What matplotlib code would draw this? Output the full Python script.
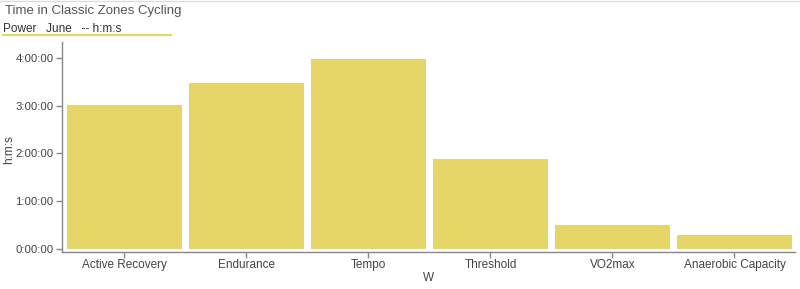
import matplotlib
matplotlib.use("Agg")
import matplotlib.pyplot as plt
from matplotlib.ticker import FuncFormatter, MultipleLocator
from matplotlib.lines import Line2D

categories = ["Active Recovery", "Endurance", "Tempo", "Threshold", "VO2max", "Anaerobic Capacity"]
hours = [3.02, 3.47, 3.98, 1.89, 0.50, 0.29]
seconds = [h * 3600 for h in hours]

plt.rcParams['font.family'] = ['Liberation Sans', 'DejaVu Sans']
txt = '#444444'
bar_color = '#e6d567'

fig = plt.figure(figsize=(8, 2.89), dpi=100)
W, H = 800, 289
left, right, top, bottom = 62, 795.5, 42, 252
ax = fig.add_axes([left / W, 1 - bottom / H, (right - left) / W, (bottom - top) / H])

x = list(range(len(categories)))
ax.bar(x, seconds, width=0.94, color=bar_color, zorder=2)
band = (right - left - 1.5) / len(categories)
ax.set_xlim(-0.5 - 1.5 / band, len(categories) - 0.5)
ax.set_ylim(-0.06 * 3600, 4.33 * 3600)

def fmt(v, pos):
    v = int(round(v))
    return f"{v // 3600}:{(v % 3600) // 60:02d}:{v % 60:02d}"

ax.yaxis.set_major_locator(MultipleLocator(3600))
ax.yaxis.set_major_formatter(FuncFormatter(fmt))
ax.set_xticks(x)
ax.set_xticklabels(categories)

for s in ['top', 'right']:
    ax.spines[s].set_visible(False)
for s in ['left', 'bottom']:
    ax.spines[s].set_color('#888888')
    ax.spines[s].set_linewidth(1.0)
ax.tick_params(axis='both', colors='#888888', labelcolor=txt, labelsize=8.5, length=4, width=1)
ax.tick_params(axis='y', pad=2, labelsize=8.2)
ax.tick_params(axis='x', pad=1)

fig.text(9 / W, 1 - 150 / H, "h:m:s", color=txt, fontsize=8.5, va='center', ha='center', rotation=90)
ax.set_xlabel("W", color=txt, fontsize=8.5, labelpad=1)

fig.text(5 / W, 1 - 11 / H, "Time in Classic Zones Cycling", color='#555555', fontsize=9.5, va='center', ha='left')
fig.text(3 / W, 1 - 29 / H, "Power   June   -- h:m:s", color='#333333', fontsize=8.5, va='center', ha='left')
fig.add_artist(Line2D([3 / W, 171 / W], [1 - 35 / H, 1 - 35 / H], color='#e6d567', lw=1.6, transform=fig.transFigure))
fig.add_artist(Line2D([0, 1], [1 - 0.5 / H, 1 - 0.5 / H], color='#dddddd', lw=1, transform=fig.transFigure))

fig.savefig("out.png", dpi=100)
